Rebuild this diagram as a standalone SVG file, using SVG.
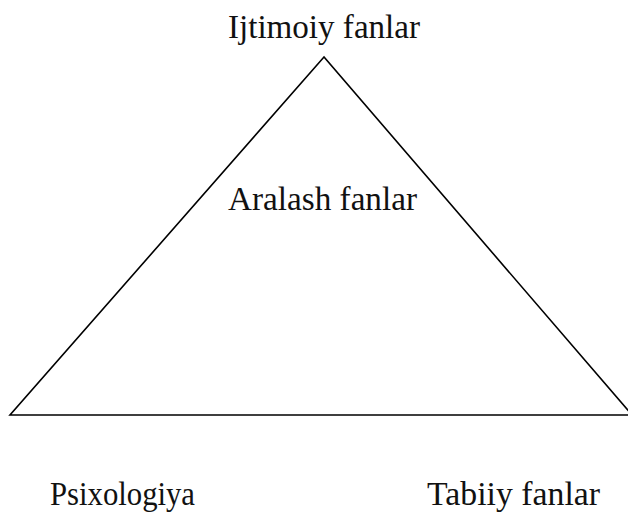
<svg xmlns="http://www.w3.org/2000/svg" width="628" height="520" viewBox="0 0 628 520">
<style>
.t{font-family:"Liberation Serif","DejaVu Serif",serif;font-size:33px;fill:#111}
.s{fill:none;stroke:#000;stroke-width:1.6}
</style>
<rect width="628" height="520" fill="#fff"/>
<g id="connectors">
<path class="s" d="M324,57 L10,415 L632,415 Z"/>
</g>
<g id="n1"><text class="t" x="228" y="38" textLength="192" lengthAdjust="spacingAndGlyphs">Ijtimoiy fanlar</text></g>
<g id="n2"><text class="t" x="228" y="210" textLength="189" lengthAdjust="spacingAndGlyphs">Aralash fanlar</text></g>
<g id="n3"><text class="t" x="50" y="505" textLength="145" lengthAdjust="spacingAndGlyphs">Psixologiya</text></g>
<g id="n4"><text class="t" x="427" y="505" textLength="173" lengthAdjust="spacingAndGlyphs">Tabiiy fanlar</text></g>
</svg>
